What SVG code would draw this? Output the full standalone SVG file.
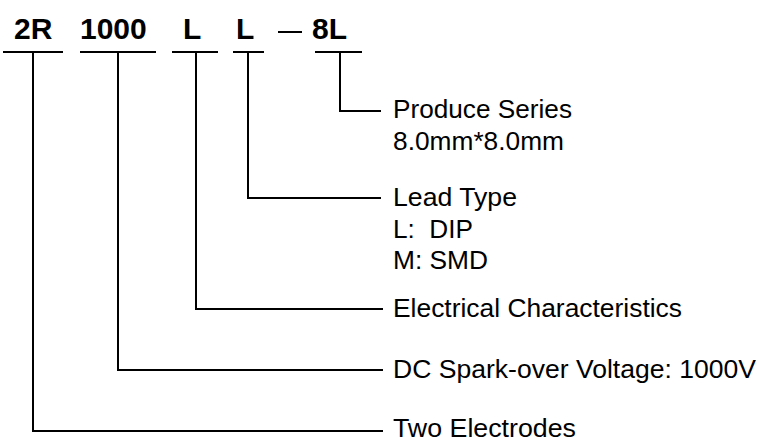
<svg xmlns="http://www.w3.org/2000/svg" width="759" height="441" viewBox="0 0 759 441">
<style>
.code{font-family:"Liberation Sans",Arial,sans-serif;font-weight:bold;font-size:30px;fill:#000}
.lbl{font-family:"Liberation Sans",Arial,sans-serif;font-size:25px;fill:#000}
.ln{stroke:#000;stroke-width:2;fill:none}
</style>
<rect width="759" height="441" fill="#fff"/>
<g id="code-2R"><text class="code" x="14" y="39">2R</text><line class="ln" x1="3" y1="52" x2="63" y2="52"/></g>
<g id="code-1000"><text class="code" x="80" y="39">1000</text><line class="ln" x1="80" y1="52" x2="156" y2="52"/></g>
<g id="code-L1"><text class="code" x="183" y="39">L</text><line class="ln" x1="172" y1="52" x2="218" y2="52"/></g>
<g id="code-L2"><text class="code" x="236" y="39">L</text><line class="ln" x1="233" y1="52" x2="264" y2="52"/></g>
<g id="code-dash"><line class="ln" x1="278" y1="32" x2="302" y2="32"/></g>
<g id="code-8L"><text class="code" x="312" y="39">8L</text><line class="ln" x1="315" y1="52" x2="362" y2="52"/></g>
<g id="connectors">
<polyline class="ln" points="340,52 340,111 381,111"/>
<polyline class="ln" points="248,52 248,198 381,198"/>
<polyline class="ln" points="196,52 196,309 383,309"/>
<polyline class="ln" points="118,52 118,370 383,370"/>
<polyline class="ln" points="33,52 33,431 383,431"/>
</g>
<g id="label-series"><text class="lbl" x="393" y="118" textLength="179" lengthAdjust="spacingAndGlyphs">Produce Series</text><text class="lbl" x="393" y="150" textLength="171" lengthAdjust="spacingAndGlyphs">8.0mm*8.0mm</text></g>
<g id="label-lead"><text class="lbl" x="393" y="206" textLength="124" lengthAdjust="spacingAndGlyphs">Lead Type</text><text class="lbl" x="393" y="238" xml:space="preserve" textLength="80" lengthAdjust="spacingAndGlyphs">L:  DIP</text><text class="lbl" x="393" y="269" textLength="95" lengthAdjust="spacingAndGlyphs">M: SMD</text></g>
<g id="label-elec"><text class="lbl" x="393" y="317" textLength="289" lengthAdjust="spacingAndGlyphs">Electrical Characteristics</text></g>
<g id="label-dc"><text class="lbl" x="393" y="378" textLength="363" lengthAdjust="spacingAndGlyphs">DC Spark-over Voltage: 1000V</text></g>
<g id="label-two"><text class="lbl" x="393" y="437" textLength="183" lengthAdjust="spacingAndGlyphs">Two Electrodes</text></g>
</svg>
